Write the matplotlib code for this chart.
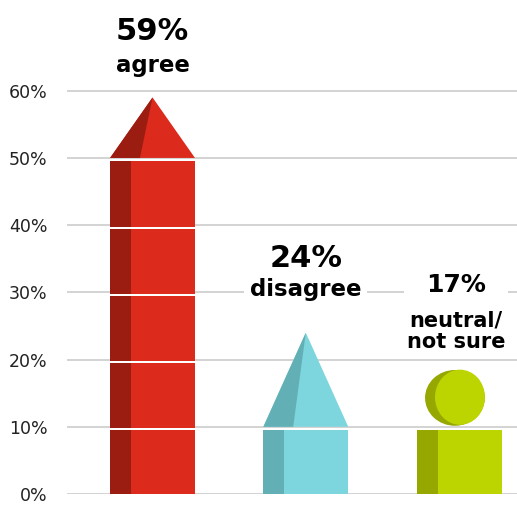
import numpy as np
import matplotlib
matplotlib.use("Agg")
from matplotlib import pyplot as plt
from matplotlib.patches import Polygon, Ellipse

#%% data
categories = ["agree", "disagree", "neutral/\nnot sure"]
values = [59, 24, 17]
base_heights = [50, 10, 10]
shapes = ["arrow", "arrow", "ball"]
yticks = [0, 10, 20, 30, 40, 50, 60]
ytick_labels = [f"{t}%" for t in yticks]

main_colors = ["#DC2A1C", "#7DD6DD", "#BCD400"]
dark_colors = ["#9B1D12", "#63AFB6", "#96A800"]

#%% figure
fig = plt.figure(figsize=(5.17, 5.16), dpi=100)
ax = fig.add_axes([67 / 517, 22 / 516, 1 - 67 / 517, 1 - 22 / 516])
ax.set_xlim(-0.558, 2.378)
ax.set_ylim(0, 73.5)

for s in ax.spines.values():
    s.set_visible(False)
ax.set_xticks([])
ax.set_yticks(yticks)
ax.set_yticklabels(ytick_labels, fontsize=12.5, color="#222222")
ax.tick_params(axis="y", length=0, pad=14)
for t in yticks:
    ax.axhline(t, color="#d0d0d0", lw=1.3, zorder=1)

w = 0.554
dark_w = 0.137
inner = 0.195
gap = 0.3
x = np.arange(len(categories))

for i, (cat, val, base, shape) in enumerate(zip(categories, values, base_heights, shapes)):
    left = x[i] - w / 2
    # body in 10% segments with thin white gaps
    tops = list(np.arange(9.5, base, 10))
    bottoms = [0] + [t + gap for t in tops[:-1]]
    for lo, hi in zip(bottoms, tops):
        ax.bar(left, hi - lo, width=w, bottom=lo, align="edge", color=main_colors[i],
               lw=0, zorder=2)
        ax.bar(left, hi - lo, width=dark_w, bottom=lo, align="edge", color=dark_colors[i],
               lw=0, zorder=3)
    if shape == "arrow":
        ax.add_patch(Polygon([(left, base), (x[i], val), (left + w, base)],
                             closed=True, color=main_colors[i], lw=0, zorder=3))
        ax.add_patch(Polygon([(left, base), (x[i], val), (left + inner, base)],
                             closed=True, color=dark_colors[i], lw=0, zorder=4))
    else:
        ax.add_patch(Ellipse((x[i] - 0.027, 14.3), 0.39, 8.3, color=dark_colors[i], lw=0, zorder=3))
        ax.add_patch(Ellipse((x[i] + 0.006, 14.4), 0.326, 8.2, color=main_colors[i], lw=0, zorder=4))

# labels
ax.text(x[0], 67.6, f"{values[0]}%", ha="center", va="baseline", fontsize=22,
        fontweight="bold", color="black", zorder=6)
ax.text(x[0], 62.8, categories[0], ha="center", va="baseline", fontsize=16.5,
        fontweight="bold", color="black", zorder=6)

ax.text(x[1], 33.8, f"{values[1]}%", ha="center", va="baseline", fontsize=22,
        fontweight="bold", color="black", zorder=6)
ax.text(x[1], 29.5, categories[1], ha="center", va="baseline", fontsize=16.5,
        fontweight="bold", color="black", zorder=6,
        bbox=dict(boxstyle="square,pad=0.25", fc="white", ec="none"))

ax.text(x[2] - 0.02, 30.0, f"{values[2]}%", ha="center", va="baseline", fontsize=18,
        fontweight="bold", color="black", zorder=6,
        bbox=dict(boxstyle="square,pad=0.9", fc="white", ec="none"))
ax.text(x[2] - 0.02, 21.7, categories[2], ha="center", va="baseline", fontsize=15,
        fontweight="bold", color="black", zorder=6, linespacing=1.1)

fig.savefig("out.png", dpi=100)
